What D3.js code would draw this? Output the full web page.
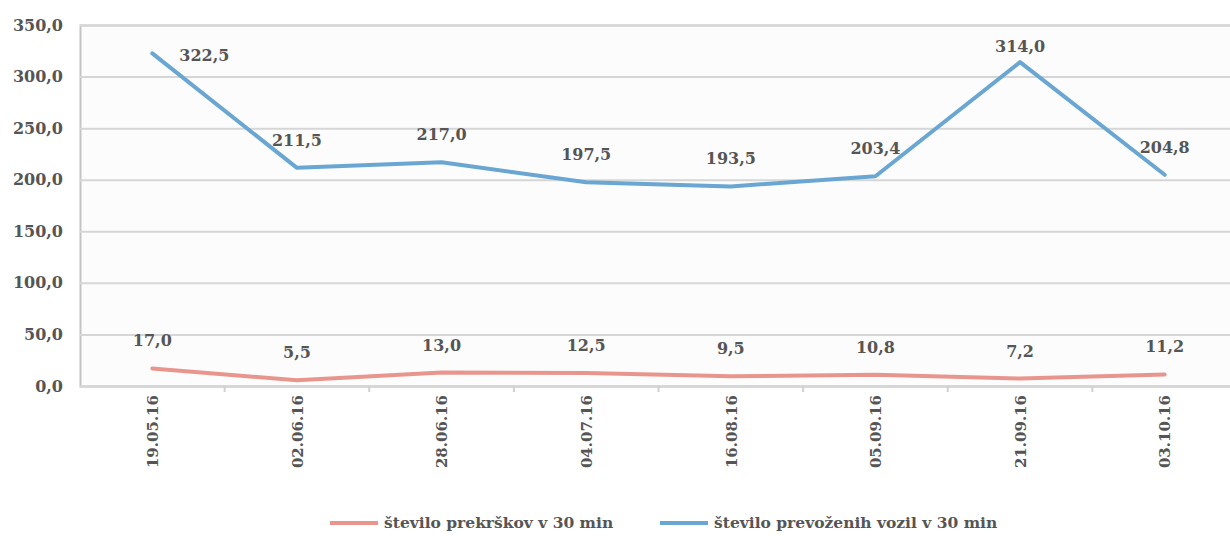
<!DOCTYPE html>
<html>
<head>
<meta charset="utf-8">
<script src="https://cdn.jsdelivr.net/npm/d3@7"></script>
<style>
  body { margin: 0; background: #fff; }
  text { font-family: "DejaVu Serif", serif; font-weight: bold; fill: #555; }
</style>
</head>
<body>
<div id="chart"></div>
<script>
// data
const dates = ['19.05.16', '02.06.16', '28.06.16', '04.07.16', '16.08.16', '05.09.16', '21.09.16', '03.10.16'];
const prekrski = [17.0, 5.5, 13.0, 12.5, 9.5, 10.8, 7.2, 11.2];
const vozila = [322.5, 211.5, 217.0, 197.5, 193.5, 203.4, 314.0, 204.8];
const yTicks = [0, 50, 100, 150, 200, 250, 300, 350];
const seriesNames = ['število prekrškov v 30 min', 'število prevoženih vozil v 30 min'];

const width = 1230;
const height = 536;
const plotL = 80, plotR = 1237, plotT = 25, plotB = 386;

const series = [
  { name: seriesNames[0], values: prekrski, color: '#e8958e' },
  { name: seriesNames[1], values: vozila, color: '#6aa6d2' }
];

const fmt = v => d3.format('.1f')(v).replace('.', ',');

const svg = d3.select('#chart').append('svg')
  .attr('width', width)
  .attr('height', height);

/* Scale */
const xScale = d3.scalePoint()
  .domain(dates)
  .range([plotL, plotR])
  .padding(0.5);

const yScale = d3.scaleLinear()
  .domain([0, 350])
  .range([plotB, plotT]);

// plot background (scan is slightly grey)
svg.append('rect')
  .attr('x', plotL).attr('y', plotT)
  .attr('width', plotR - plotL).attr('height', plotB - plotT)
  .attr('fill', '#fcfcfc');

// grid
const yAxis = d3.axisLeft(yScale)
  .tickValues(yTicks)
  .tickSize(-(plotR - plotL))
  .tickPadding(17)
  .tickFormat(fmt);

const gy = svg.append('g')
  .attr('transform', `translate(${plotL},0)`)
  .call(yAxis);
gy.select('.domain').attr('stroke', '#c4c4c4').attr('stroke-width', 2);
gy.selectAll('.tick line').attr('stroke', '#d6d6d6').attr('stroke-width', 2);
gy.selectAll('.tick text').style('font-size', '16px').attr('fill', '#555');

// x axis
const step = xScale.step();
const xAxis = d3.axisBottom(xScale).tickSize(0).tickPadding(0);
const gx = svg.append('g')
  .attr('transform', `translate(0,${plotB})`)
  .call(xAxis);
gx.select('.domain').attr('stroke', '#d6d6d6').attr('stroke-width', 2);
gx.selectAll('.tick text')
  .style('font-size', '15px')
  .attr('fill', '#555')
  .attr('text-anchor', 'end')
  .attr('dy', '0.35em')
  .attr('transform', 'translate(0,9) rotate(-90)');

// small boundary ticks between categories
gx.selectAll('.sep')
  .data(dates.slice(1))
  .enter().append('line')
  .attr('x1', d => xScale(d) - step / 2)
  .attr('x2', d => xScale(d) - step / 2)
  .attr('y1', 0).attr('y2', 6)
  .attr('stroke', '#d0d0d0')
  .attr('stroke-width', 2);

/* lines */
const line = d3.line()
  .x((d, i) => xScale(dates[i]))
  .y(d => yScale(d));

svg.selectAll('.line')
  .data(series).enter()
  .append('path')
  .attr('class', 'line')
  .attr('fill', 'none')
  .attr('stroke', d => d.color)
  .attr('stroke-width', 4)
  .attr('stroke-linejoin', 'round')
  .attr('stroke-linecap', 'round')
  .attr('d', d => line(d.values));

/* labels: first blue one sits right of its point, the peak one closer */
function labelDx(si, i) {
  return si === 1 && i === 0 ? 52 : 0;
}
function labelDy(si, i) {
  if (si === 1 && i === 0) return 8;
  if (si === 1 && i === 6) return -10;
  return -22;
}
series.forEach((s, si) => {
  svg.append('g')
    .selectAll('text')
    .data(s.values).enter()
    .append('text')
    .attr('text-anchor', 'middle')
    .style('font-size', '16px')
    .attr('x', (d, i) => xScale(dates[i]) + labelDx(si, i))
    .attr('y', (d, i) => yScale(d) + labelDy(si, i))
    .text(d => fmt(d));
});

/* legend */
const legend = svg.append('g')
  .attr('transform', 'translate(330,523)');
const lx = [0, 330];
series.forEach((s, i) => {
  const g = legend.append('g').attr('transform', `translate(${lx[i]},0)`);
  g.append('line')
    .attr('x1', 0).attr('x2', 48)
    .attr('stroke', s.color)
    .attr('stroke-width', 4);
  g.append('text')
    .attr('x', 54)
    .attr('dy', '0.35em')
    .style('font-size', '15.5px')
    .text(s.name);
});
</script>
</body>
</html>
